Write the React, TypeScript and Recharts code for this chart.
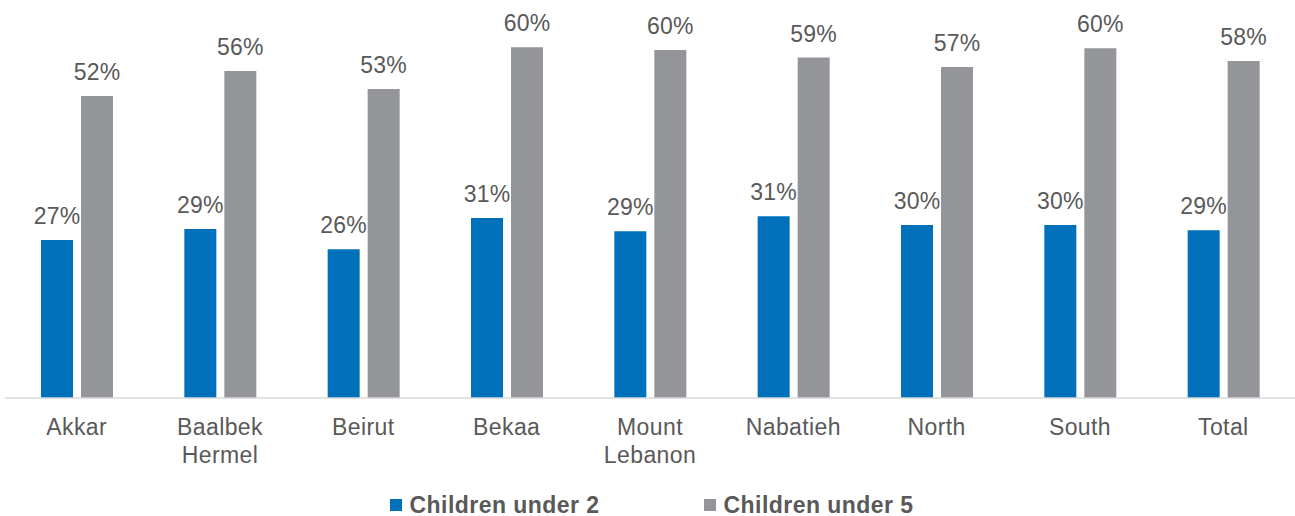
import React from 'react';
import { BarChart, Bar, XAxis, YAxis, LabelList, Legend } from 'recharts';

const categories = ['Akkar', 'Baalbek Hermel', 'Beirut', 'Bekaa', 'Mount Lebanon', 'Nabatieh', 'North', 'South', 'Total'];
const under2 = [27.2, 29.1, 25.6, 31.0, 28.7, 31.3, 29.8, 29.8, 28.9];
const under5 = [52.0, 56.3, 53.2, 60.4, 59.9, 58.6, 57.0, 60.2, 58.0];
const seriesNames = ['Children under 2', 'Children under 5'];
const colors = ['#0070BA', '#939598'];

const data = categories.map((c, i) => ({ name: c, u2: under2[i], u5: under5[i] }));

const TEXT = '#595959';
const FONT = '"Liberation Sans", Arial, Helvetica, sans-serif';

const Tick = (props: any) => {
  const { x, y, payload } = props;
  const words = String(payload.value).split(' ');
  return (
    <text x={x} y={y} textAnchor="middle" fill={TEXT} fontSize={23} fontFamily={FONT} letterSpacing={0.4}>
      {words.map((w, i) => (
        <tspan key={i} x={x} dy={i === 0 ? 37 : 28}>{w}</tspan>
      ))}
    </text>
  );
};

const LegendContent = () => (
  <div style={{ display: 'flex', justifyContent: 'center', alignItems: 'center', fontFamily: FONT, height: 20 }}>
    {seriesNames.map((n, i) => (
      <div key={n} style={{ display: 'flex', alignItems: 'center', marginRight: i === 0 ? 104 : 0 }}>
        <div style={{ width: 12, height: 12, background: colors[i], marginRight: 8 }} />
        <span style={{ fontSize: 23, fontWeight: 'bold', color: TEXT, letterSpacing: 0.45, lineHeight: '20px' }}>{n}</span>
      </div>
    ))}
  </div>
);

const fmt = (v: any) => `${Math.round(Number(v))}%`;

export default function App() {
  return (
    <div>
      <style>{'body{margin:0;}'}</style>
      <BarChart
        width={1295}
        height={516}
        data={data}
        margin={{ top: 3, right: 0, left: 5, bottom: 0 }}
        barSize={32}
        barGap={8}
      >
        <XAxis
          dataKey="name"
          height={118}
          tickLine={false}
          tickSize={0}
          tickMargin={0}
          axisLine={{ stroke: '#d9d9d9', strokeWidth: 1.5 }}
          tick={<Tick />}
          interval={0}
        />
        <YAxis hide domain={[0, 68]} />
        <Legend
          layout="horizontal"
          verticalAlign="middle"
          align="center"
          content={<LegendContent />}
          wrapperStyle={{ top: 495, left: 4, width: 1295 }}
        />
        <Bar dataKey="u2" name={seriesNames[0]} fill={colors[0]} isAnimationActive={false}>
          <LabelList dataKey="u2" position="top" offset={16} formatter={fmt} fill={TEXT} fontSize={23} fontFamily={FONT} letterSpacing={0.2} />
        </Bar>
        <Bar dataKey="u5" name={seriesNames[1]} fill={colors[1]} isAnimationActive={false}>
          <LabelList dataKey="u5" position="top" offset={16} formatter={fmt} fill={TEXT} fontSize={23} fontFamily={FONT} letterSpacing={0.2} />
        </Bar>
      </BarChart>
    </div>
  );
}
